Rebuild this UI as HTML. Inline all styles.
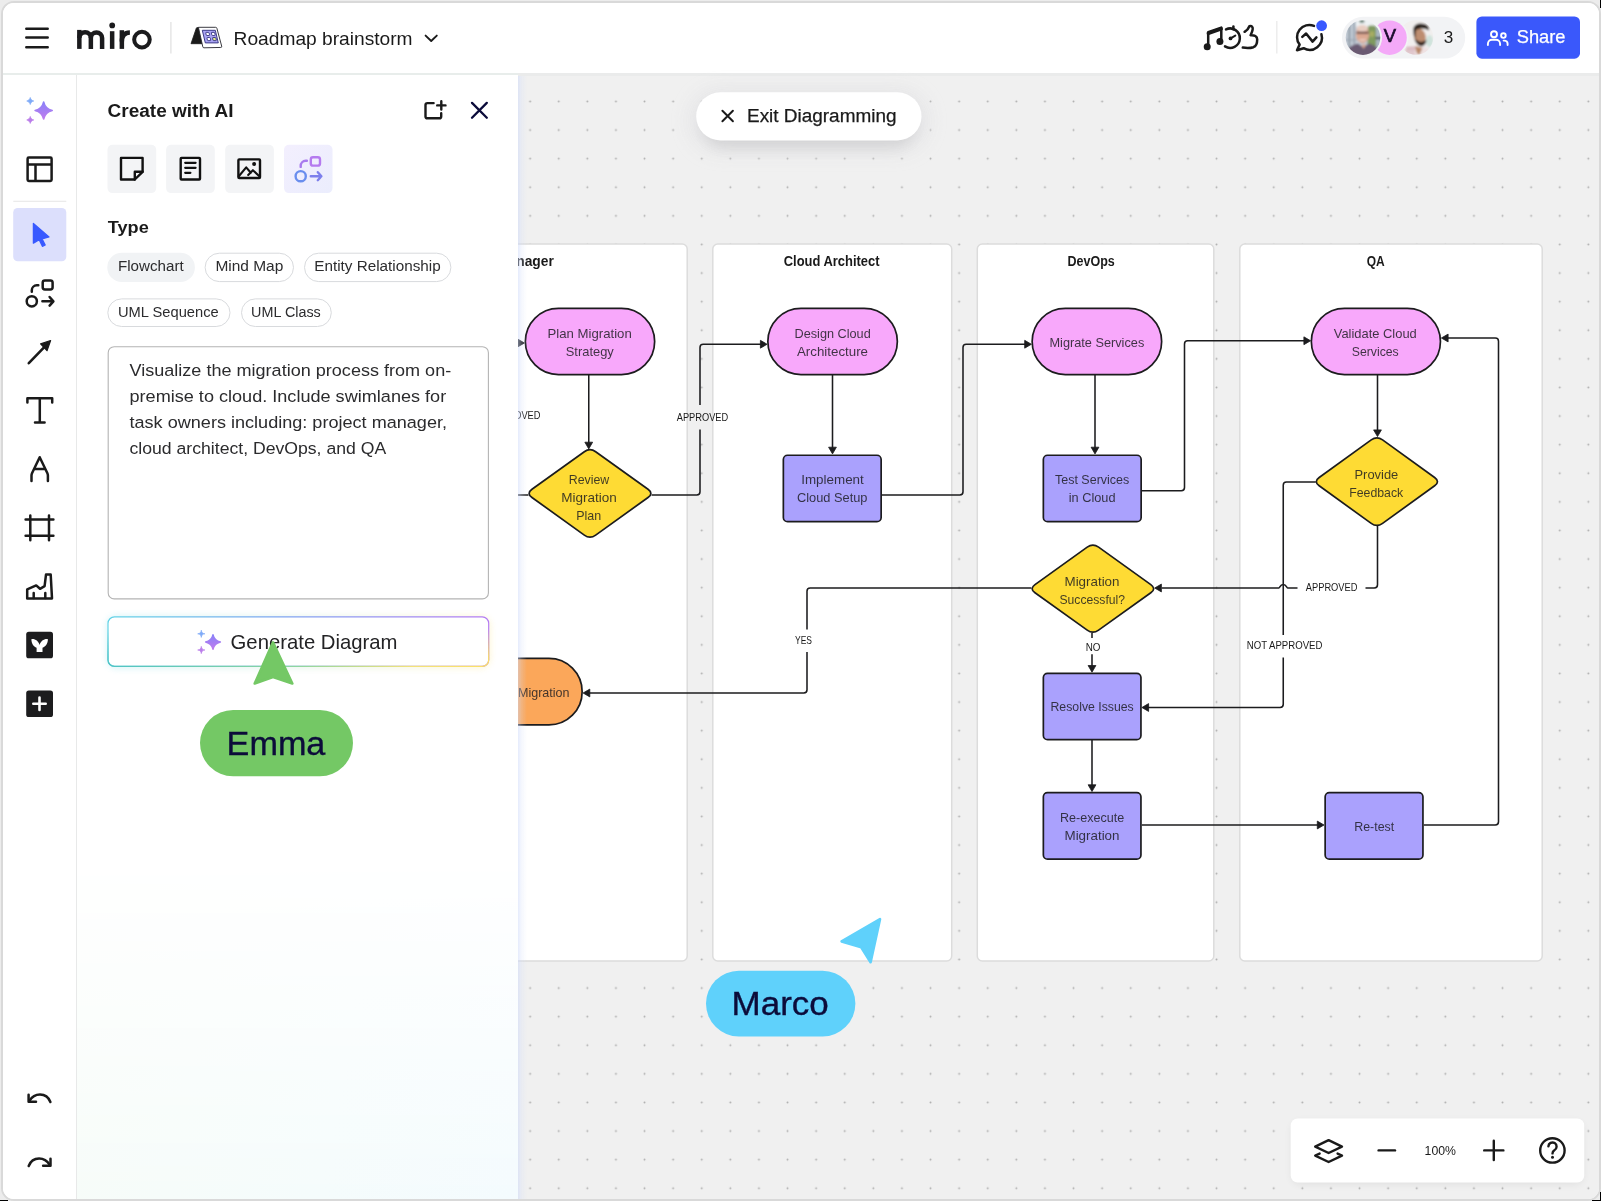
<!DOCTYPE html>
<html lang="en">
<head>
<meta charset="utf-8">
<title>Roadmap brainstorm</title>
<style>
*{box-sizing:border-box;margin:0;padding:0}
html,body{width:1601px;height:1201px;overflow:hidden;background:#ececec;font-family:"Liberation Sans",sans-serif;color:#1a1a1a}
.abs{position:absolute}
svg{will-change:transform}
#frame{position:absolute;left:1px;top:1px;width:1600px;height:1200px;border:2px solid #d9d9d9;border-radius:13px;background:#fff;overflow:hidden}
#inner{position:absolute;left:-3px;top:-3px;width:1601px;height:1201px}
/* header */
#header{position:absolute;left:0;top:0;width:1601px;height:73px;background:#fff}
#hline{position:absolute;left:0;top:73px;width:518px;height:3px;background:#e8edeb}
#hline2{position:absolute;left:518px;top:73px;width:1083px;height:2.5px;background:#eaebeb}
/* toolbar */
#toolbar{position:absolute;left:0;top:75px;width:76px;height:1126px;background:#fff}
#tline{position:absolute;left:75.6px;top:75px;width:2px;height:1126px;background:#e8e9e9}
/* panel */
#panel{position:absolute;left:77px;top:75px;width:441px;height:1126px;background:#fff}
#panelgrad{position:absolute;left:0;top:780px;width:441px;height:346px;background:linear-gradient(100deg,rgba(247,252,248,1) 0%,rgba(245,252,252,1) 60%,rgba(244,251,254,1) 100%);-webkit-mask-image:linear-gradient(180deg,rgba(0,0,0,0) 0%,rgba(0,0,0,.4) 40%,#000 100%);mask-image:linear-gradient(180deg,rgba(0,0,0,0) 0%,rgba(0,0,0,.4) 40%,#000 100%)}
#pglow{position:absolute;left:518px;top:76px;width:9px;height:1125px;background:linear-gradient(90deg,rgba(204,216,250,.5) 0%,rgba(214,224,250,.24) 40%,rgba(226,232,248,0) 100%)}
/* canvas */
#canvas{position:absolute;left:518px;top:75px;width:1083px;height:1126px;background:#f0f0f0;overflow:hidden}
</style>
</head>
<body>
<div id="frame"><div id="inner">

<!-- CANVAS -->
<div id="canvas">
<svg class="abs" style="left:-518px;top:-75px" width="1601" height="1201" viewBox="0 0 1601 1201">
  <defs>
    <pattern id="dots" x="515.85" y="87.15" width="28.6" height="28.6" patternUnits="userSpaceOnUse">
      <circle cx="14.3" cy="14.3" r="0.95" fill="#adadad"/>
    </pattern>
  </defs>
  <rect x="518" y="75" width="1083" height="1126" fill="url(#dots)"/>
  <!-- DIAGRAM-START -->
  <g font-family="Liberation Sans, sans-serif">
  <rect x="300" y="244.1" width="387.20" height="716.80" rx="5" fill="#fff" stroke="#dcdcdc" stroke-width="1.5"/>
  <rect x="712.8" y="244.1" width="238.90" height="716.80" rx="5" fill="#fff" stroke="#dcdcdc" stroke-width="1.5"/>
  <rect x="977.3" y="244.1" width="236.50" height="716.80" rx="5" fill="#fff" stroke="#dcdcdc" stroke-width="1.5"/>
  <rect x="1239.8" y="244.1" width="302.40" height="716.80" rx="5" fill="#fff" stroke="#dcdcdc" stroke-width="1.5"/>
  <text x="553.8" y="266.0" text-anchor="end" font-size="13.8" font-weight="700" fill="#1a1a1a">Project Manager</text>
  <text x="831.6" y="266.0" text-anchor="middle" font-size="13.8" font-weight="700" fill="#1a1a1a" textLength="95.75" lengthAdjust="spacingAndGlyphs">Cloud Architect</text>
  <text x="1091.2" y="266.0" text-anchor="middle" font-size="13.8" font-weight="700" fill="#1a1a1a" textLength="47.2" lengthAdjust="spacingAndGlyphs">DevOps</text>
  <text x="1375.7" y="266.0" text-anchor="middle" font-size="13.8" font-weight="700" fill="#1a1a1a" textLength="18" lengthAdjust="spacingAndGlyphs">QA</text>
  <path d="M588.75,375.00 L588.75,443.20" fill="none" stroke="#1c1c1e" stroke-width="1.55" stroke-linejoin="round"/>
  <path d="M588.75,448.90 L584.85,442.20 L592.65,442.20 Z" fill="#1c1c1e" stroke="#1c1c1e" stroke-width="0.8" stroke-linejoin="round"/>
  <path d="M480.00,343.00 L518.70,343.00" fill="none" stroke="#1c1c1e" stroke-width="1.55" stroke-linejoin="round"/>
  <path d="M524.40,343.00 L517.70,346.90 L517.70,339.10 Z" fill="#1c1c1e" stroke="#1c1c1e" stroke-width="0.8" stroke-linejoin="round"/>
  <path d="M528.50,495.00 L480.00,495.00" fill="none" stroke="#1c1c1e" stroke-width="1.55" stroke-linejoin="round"/>
  <path d="M651.50,495.00 L696.80,495.00 Q700.00,495.00 700.00,491.80 L700.00,429.50" fill="none" stroke="#1c1c1e" stroke-width="1.55" stroke-linejoin="round"/>
  <path d="M700.00,405.00 L700.00,347.45 Q700.00,344.25 703.20,344.25 L761.40,344.25" fill="none" stroke="#1c1c1e" stroke-width="1.55" stroke-linejoin="round"/>
  <path d="M767.10,344.25 L760.40,348.15 L760.40,340.35 Z" fill="#1c1c1e" stroke="#1c1c1e" stroke-width="0.8" stroke-linejoin="round"/>
  <path d="M832.50,375.00 L832.50,448.20" fill="none" stroke="#1c1c1e" stroke-width="1.55" stroke-linejoin="round"/>
  <path d="M832.50,453.90 L828.60,447.20 L836.40,447.20 Z" fill="#1c1c1e" stroke="#1c1c1e" stroke-width="0.8" stroke-linejoin="round"/>
  <path d="M882.00,495.00 L959.80,495.00 Q963.00,495.00 963.00,491.80 L963.00,347.45 Q963.00,344.25 966.20,344.25 L1025.70,344.25" fill="none" stroke="#1c1c1e" stroke-width="1.55" stroke-linejoin="round"/>
  <path d="M1031.40,344.25 L1024.70,348.15 L1024.70,340.35 Z" fill="#1c1c1e" stroke="#1c1c1e" stroke-width="0.8" stroke-linejoin="round"/>
  <path d="M1095.00,375.00 L1095.00,448.20" fill="none" stroke="#1c1c1e" stroke-width="1.55" stroke-linejoin="round"/>
  <path d="M1095.00,453.90 L1091.10,447.20 L1098.90,447.20 Z" fill="#1c1c1e" stroke="#1c1c1e" stroke-width="0.8" stroke-linejoin="round"/>
  <path d="M1142.00,490.75 L1181.30,490.75 Q1184.50,490.75 1184.50,487.55 L1184.50,343.95 Q1184.50,340.75 1187.70,340.75 L1304.90,340.75" fill="none" stroke="#1c1c1e" stroke-width="1.55" stroke-linejoin="round"/>
  <path d="M1310.60,340.75 L1303.90,344.65 L1303.90,336.85 Z" fill="#1c1c1e" stroke="#1c1c1e" stroke-width="0.8" stroke-linejoin="round"/>
  <path d="M1377.50,375.00 L1377.50,430.90" fill="none" stroke="#1c1c1e" stroke-width="1.55" stroke-linejoin="round"/>
  <path d="M1377.50,436.60 L1373.60,429.90 L1381.40,429.90 Z" fill="#1c1c1e" stroke="#1c1c1e" stroke-width="0.8" stroke-linejoin="round"/>
  <path d="M1315.80,482.00 L1286.45,482.00 Q1283.25,482.00 1283.25,485.20 L1283.25,635.00" fill="none" stroke="#1c1c1e" stroke-width="1.55" stroke-linejoin="round"/>
  <path d="M1283.25,657.50 L1283.25,704.30 Q1283.25,707.50 1280.05,707.50 L1147.60,707.50" fill="none" stroke="#1c1c1e" stroke-width="1.55" stroke-linejoin="round"/>
  <path d="M1141.90,707.50 L1148.60,703.60 L1148.60,711.40 Z" fill="#1c1c1e" stroke="#1c1c1e" stroke-width="0.8" stroke-linejoin="round"/>
  <path d="M1377.50,526.00 L1377.50,584.80 Q1377.50,588.00 1374.30,588.00 L1365.50,588.00" fill="none" stroke="#1c1c1e" stroke-width="1.55" stroke-linejoin="round"/>
  <path d="M1297.5,588 L1287.6,588 C1286.6,588 1286.4,584.4 1283.25,584.4 C1280.1,584.4 1279.9,588 1278.9,588 L1161.7,588" fill="none" stroke="#1c1c1e" stroke-width="1.55" stroke-linejoin="round"/>
  <path d="M1154.70,588.00 L1161.40,584.10 L1161.40,591.90 Z" fill="#1c1c1e" stroke="#1c1c1e" stroke-width="0.8" stroke-linejoin="round"/>
  <path d="M1031.50,588.00 L810.20,588.00 Q807.00,588.00 807.00,591.20 L807.00,629.50" fill="none" stroke="#1c1c1e" stroke-width="1.55" stroke-linejoin="round"/>
  <path d="M807.00,652.00 L807.00,689.80 Q807.00,693.00 803.80,693.00 L588.80,693.00" fill="none" stroke="#1c1c1e" stroke-width="1.55" stroke-linejoin="round"/>
  <path d="M583.10,693.00 L589.80,689.10 L589.80,696.90 Z" fill="#1c1c1e" stroke="#1c1c1e" stroke-width="0.8" stroke-linejoin="round"/>
  <path d="M1092.00,632.80 L1092.00,638.00" fill="none" stroke="#1c1c1e" stroke-width="1.55" stroke-linejoin="round"/>
  <path d="M1092.00,654.30 L1092.00,666.50" fill="none" stroke="#1c1c1e" stroke-width="1.55" stroke-linejoin="round"/>
  <path d="M1092.00,672.20 L1088.10,665.50 L1095.90,665.50 Z" fill="#1c1c1e" stroke="#1c1c1e" stroke-width="0.8" stroke-linejoin="round"/>
  <path d="M1092.00,740.00 L1092.00,785.80" fill="none" stroke="#1c1c1e" stroke-width="1.55" stroke-linejoin="round"/>
  <path d="M1092.00,791.50 L1088.10,784.80 L1095.90,784.80 Z" fill="#1c1c1e" stroke="#1c1c1e" stroke-width="0.8" stroke-linejoin="round"/>
  <path d="M1141.80,825.00 L1318.30,825.00" fill="none" stroke="#1c1c1e" stroke-width="1.55" stroke-linejoin="round"/>
  <path d="M1324.00,825.00 L1317.30,828.90 L1317.30,821.10 Z" fill="#1c1c1e" stroke="#1c1c1e" stroke-width="0.8" stroke-linejoin="round"/>
  <path d="M1423.80,825.00 L1495.30,825.00 Q1498.50,825.00 1498.50,821.80 L1498.50,341.20 Q1498.50,338.00 1495.30,338.00 L1447.10,338.00" fill="none" stroke="#1c1c1e" stroke-width="1.55" stroke-linejoin="round"/>
  <path d="M1441.40,338.00 L1448.10,334.10 L1448.10,341.90 Z" fill="#1c1c1e" stroke="#1c1c1e" stroke-width="0.8" stroke-linejoin="round"/>
  <rect x="525.35" y="308.35" width="129.30" height="66.30" rx="33.15" fill="#f8a8fb" stroke="#1c1c1e" stroke-width="1.7"/>
  <rect x="767.85" y="308.35" width="129.50" height="66.30" rx="33.15" fill="#f8a8fb" stroke="#1c1c1e" stroke-width="1.7"/>
  <rect x="1032.15" y="308.35" width="129.50" height="66.30" rx="33.15" fill="#f8a8fb" stroke="#1c1c1e" stroke-width="1.7"/>
  <rect x="1311.35" y="308.35" width="129.10" height="66.30" rx="33.15" fill="#f8a8fb" stroke="#1c1c1e" stroke-width="1.7"/>
  <rect x="452.85" y="658.45" width="129.30" height="66.40" rx="33.20" fill="#fba75a" stroke="#1c1c1e" stroke-width="1.7"/>
  <rect x="783.35" y="455.25" width="97.80" height="66.40" rx="4.2" fill="#aaa1fd" stroke="#1c1c1e" stroke-width="1.7"/>
  <rect x="1043.35" y="455.25" width="97.80" height="66.40" rx="4.2" fill="#aaa1fd" stroke="#1c1c1e" stroke-width="1.7"/>
  <rect x="1043.35" y="673.35" width="97.60" height="66.30" rx="4.2" fill="#aaa1fd" stroke="#1c1c1e" stroke-width="1.7"/>
  <rect x="1043.35" y="792.65" width="97.60" height="66.50" rx="4.2" fill="#aaa1fd" stroke="#1c1c1e" stroke-width="1.7"/>
  <rect x="1325.15" y="792.65" width="97.80" height="66.50" rx="4.2" fill="#aaa1fd" stroke="#1c1c1e" stroke-width="1.7"/>
  <path d="M584.32,451.69 Q590.00,447.60 595.68,451.69 L648.02,489.31 Q653.70,493.40 648.02,497.49 L595.68,535.11 Q590.00,539.20 584.32,535.11 L531.98,497.49 Q526.30,493.40 531.98,489.31 Z" fill="#fedb34" stroke="#1c1c1e" stroke-width="1.7" stroke-linejoin="round"/>
  <path d="M1371.23,439.90 Q1376.90,435.80 1382.57,439.90 L1434.63,477.55 Q1440.30,481.65 1434.63,485.75 L1382.57,523.40 Q1376.90,527.50 1371.23,523.40 L1319.17,485.75 Q1313.50,481.65 1319.17,477.55 Z" fill="#fedb34" stroke="#1c1c1e" stroke-width="1.7" stroke-linejoin="round"/>
  <path d="M1087.21,547.18 Q1092.90,543.10 1098.59,547.18 L1150.81,584.57 Q1156.50,588.65 1150.81,592.73 L1098.59,630.12 Q1092.90,634.20 1087.21,630.12 L1034.99,592.73 Q1029.30,588.65 1034.99,584.57 Z" fill="#fedb34" stroke="#1c1c1e" stroke-width="1.7" stroke-linejoin="round"/>
  <text x="547.5" y="338" font-size="13.4" fill="#1b1b20" fill-opacity="0.84" textLength="84.25" lengthAdjust="spacingAndGlyphs">Plan Migration</text>
  <text x="565.75" y="355.75" font-size="13.4" fill="#1b1b20" fill-opacity="0.84" textLength="48.00" lengthAdjust="spacingAndGlyphs">Strategy</text>
  <text x="794.5" y="338" font-size="13.4" fill="#1b1b20" fill-opacity="0.84" textLength="76.25" lengthAdjust="spacingAndGlyphs">Design Cloud</text>
  <text x="797" y="355.75" font-size="13.4" fill="#1b1b20" fill-opacity="0.84" textLength="71.00" lengthAdjust="spacingAndGlyphs">Architecture</text>
  <text x="1049.5" y="347" font-size="13.4" fill="#1b1b20" fill-opacity="0.84" textLength="94.75" lengthAdjust="spacingAndGlyphs">Migrate Services</text>
  <text x="1333.75" y="338" font-size="13.4" fill="#1b1b20" fill-opacity="0.84" textLength="83.00" lengthAdjust="spacingAndGlyphs">Validate Cloud</text>
  <text x="1351.75" y="355.75" font-size="13.4" fill="#1b1b20" fill-opacity="0.84" textLength="47.00" lengthAdjust="spacingAndGlyphs">Services</text>
  <text x="568.75" y="483.75" font-size="13.4" fill="#1b1b20" fill-opacity="0.84" textLength="40.50" lengthAdjust="spacingAndGlyphs">Review</text>
  <text x="561.25" y="501.75" font-size="13.4" fill="#1b1b20" fill-opacity="0.84" textLength="55.50" lengthAdjust="spacingAndGlyphs">Migration</text>
  <text x="576.25" y="519.5" font-size="13.4" fill="#1b1b20" fill-opacity="0.84" textLength="25.00" lengthAdjust="spacingAndGlyphs">Plan</text>
  <text x="801.25" y="484.25" font-size="13.4" fill="#1b1b20" fill-opacity="0.84" textLength="62.50" lengthAdjust="spacingAndGlyphs">Implement</text>
  <text x="797" y="502" font-size="13.4" fill="#1b1b20" fill-opacity="0.84" textLength="70.50" lengthAdjust="spacingAndGlyphs">Cloud Setup</text>
  <text x="1055" y="484.25" font-size="13.4" fill="#1b1b20" fill-opacity="0.84" textLength="74.25" lengthAdjust="spacingAndGlyphs">Test Services</text>
  <text x="1068.75" y="502" font-size="13.4" fill="#1b1b20" fill-opacity="0.84" textLength="46.75" lengthAdjust="spacingAndGlyphs">in Cloud</text>
  <text x="1354.5" y="479.25" font-size="13.4" fill="#1b1b20" fill-opacity="0.84" textLength="43.75" lengthAdjust="spacingAndGlyphs">Provide</text>
  <text x="1349.25" y="497" font-size="13.4" fill="#1b1b20" fill-opacity="0.84" textLength="54.00" lengthAdjust="spacingAndGlyphs">Feedback</text>
  <text x="1064.5" y="586.25" font-size="13.4" fill="#1b1b20" fill-opacity="0.84" textLength="55.00" lengthAdjust="spacingAndGlyphs">Migration</text>
  <text x="1059.5" y="604.25" font-size="13.4" fill="#1b1b20" fill-opacity="0.84" textLength="65.50" lengthAdjust="spacingAndGlyphs">Successful?</text>
  <text x="1050.5" y="711.25" font-size="13.4" fill="#1b1b20" fill-opacity="0.84" textLength="83.25" lengthAdjust="spacingAndGlyphs">Resolve Issues</text>
  <text x="1060" y="821.7" font-size="13.4" fill="#1b1b20" fill-opacity="0.84" textLength="64.25" lengthAdjust="spacingAndGlyphs">Re-execute</text>
  <text x="1064.5" y="839.7" font-size="13.4" fill="#1b1b20" fill-opacity="0.84" textLength="55.00" lengthAdjust="spacingAndGlyphs">Migration</text>
  <text x="1354.25" y="830.75" font-size="13.4" fill="#1b1b20" fill-opacity="0.84" textLength="40.00" lengthAdjust="spacingAndGlyphs">Re-test</text>
  <text x="461.0" y="697" font-size="13.4" fill="#1b1b20" fill-opacity="0.84" textLength="108.50" lengthAdjust="spacingAndGlyphs">Complete Migration</text>
  <text x="676.75" y="421.0" font-size="10.4" fill="#1a1a1a" textLength="51.50" lengthAdjust="spacingAndGlyphs">APPROVED</text>
  <text x="489.0" y="418.8" font-size="10.4" fill="#1a1a1a" textLength="51.50" lengthAdjust="spacingAndGlyphs">APPROVED</text>
  <text x="1305.75" y="591.25" font-size="10.4" fill="#1a1a1a" textLength="51.75" lengthAdjust="spacingAndGlyphs">APPROVED</text>
  <text x="1246.75" y="648.75" font-size="10.4" fill="#1a1a1a" textLength="75.75" lengthAdjust="spacingAndGlyphs">NOT APPROVED</text>
  <text x="795" y="644.25" font-size="10.4" fill="#1a1a1a" textLength="17.00" lengthAdjust="spacingAndGlyphs">YES</text>
  <text x="1085.75" y="650.75" font-size="10.4" fill="#1a1a1a" textLength="14.75" lengthAdjust="spacingAndGlyphs">NO</text>
  </g>
  <!-- DIAGRAM-END -->
</svg>
</div>
<div id="pglow"></div>

<!-- HEADER -->
<div id="header">
<svg class="abs" style="left:0;top:0" width="1601" height="73" viewBox="0 0 1601 73" font-family="Liberation Sans, sans-serif">
  <!-- hamburger -->
  <g stroke="#1a1a1a" stroke-width="2.5" stroke-linecap="round">
    <path d="M26.3,28.7H47.7M26.3,37.6H47.7M26.3,47.2H47.7"/>
  </g>
  <!-- miro logo -->
  <g fill="none" stroke="#1b1b1d" stroke-width="4.5">
    <path d="M79.35,48.9V29.9"/>
    <path d="M79.35,38.0a5.75,5.75 0 0 1 11.5,0V48.9"/>
    <path d="M90.85,38.0a5.62,5.62 0 0 1 11.25,0V48.9"/>
    <path d="M112.15,31.2V48.9"/>
    <path d="M121.85,30.2V48.9"/>
    <path d="M121.85,41.5C121.85,35.6 124.8,32.5 129.9,32.4"/>
    <circle cx="141.95" cy="39.6" r="7.8" stroke-width="4.0"/>
  </g>
  <circle cx="112.2" cy="25.4" r="2.85" fill="#1b1b1d"/>
  <!-- separator -->
  <rect x="170.2" y="22" width="1.4" height="31.5" fill="#e4e4e4"/>
  <!-- board icon -->
  <g>
    <path d="M191,43.7L196.3,28.2Q196.5,27.6 197.2,27.6H199L202.4,43.7Z" fill="#1a1a1a" stroke="#1a1a1a" stroke-width="0.8" stroke-linejoin="round"/>
    <path d="M198.4,27.3H215.6Q216.6,27.3 216.9,28.3L221.7,46.2Q222,47.4 220.8,47.45L204,47.8Q203,47.8 202.8,46.8Z" fill="#fff" stroke="#26262c" stroke-width="0.9" stroke-linejoin="round"/>
    <path d="M202.3,30.3H215.3L218.3,42.9H205.3Z" fill="#aaa4f4" stroke="#2b2a78" stroke-width="0.9" stroke-linejoin="round"/>
    <g stroke="#2b2a78" stroke-width="0.8" fill="#fff">
      <rect x="206.0" y="32.4" width="3.3" height="3.1" rx="0.6" transform="skewX(12) translate(-7.2,0)"/>
      <rect x="211.6" y="32.4" width="3.3" height="3.1" rx="0.6" transform="skewX(12) translate(-7.2,0)"/>
      <rect x="207.2" y="37.5" width="3.3" height="3.1" rx="0.6" transform="skewX(12) translate(-8.3,0)"/>
      <rect x="212.8" y="37.5" width="3.3" height="3.1" rx="0.6" fill="#e6ee8c" transform="skewX(12) translate(-8.3,0)"/>
    </g>
  </g>
  <!-- title -->
  <text x="233.6" y="44.6" font-size="18.5" fill="#1a1a1a" textLength="179" lengthAdjust="spacingAndGlyphs">Roadmap brainstorm</text>
  <path d="M425.6,35.6L431.2,41L436.8,35.6" fill="none" stroke="#1a1a1a" stroke-width="1.9" stroke-linecap="round" stroke-linejoin="round"/>

  <!-- music / timer / thumb -->
  <g fill="none" stroke="#1a1a1a" stroke-width="2.5" stroke-linecap="round" stroke-linejoin="round">
    <path d="M1208.2,45.5V32.2L1221.3,27.6V40.6"/>
    <path d="M1208.4,33.4L1221.1,28.9" stroke-width="3.6"/>
    <path d="M1226.0,29.4A9.7,9.7 0 1 1 1225.0,46.4"/>
    <path d="M1233.4,26.4V29.2"/>
    <path d="M1230.6,38.3L1235.3,35.6" stroke-width="2"/>
    <path d="M1244.6,31.8C1247,30.4 1248.6,28.4 1249.4,26.2C1251.8,25.4 1253.2,27.2 1252.6,29.8C1252.2,31.8 1251.4,33.4 1250.6,35.2C1254.4,34.8 1257.2,36.4 1257.2,39.4C1257.2,43.2 1256.4,46.0 1253.4,47.2C1250.4,48.2 1246.6,48.2 1242.8,47.6"/>
  </g>
  <circle cx="1207.2" cy="46.7" r="3.5" fill="#1a1a1a"/>
  <circle cx="1219.9" cy="41.6" r="3.5" fill="#1a1a1a"/>
  <circle cx="1230.5" cy="38.4" r="1.9" fill="#1a1a1a"/>
  <rect x="1276.1" y="21" width="1.4" height="32.5" fill="#ececec"/>
  <!-- chat / activity -->
  <g fill="none" stroke="#1a1a1a" stroke-width="2.5" stroke-linecap="round" stroke-linejoin="round">
    <path d="M1314.0,25.9A12.2,12.2 0 0 0 1299.6,44.6L1297.0,50.2L1303.6,48.2A12.2,12.2 0 0 0 1321.4,34.2"/>
    <path d="M1302.3,36.9L1306.1,33.5L1312.6,41.6L1316.4,37.4"/>
  </g>
  <circle cx="1321.6" cy="25.7" r="5.4" fill="#3859ff"/>

  <!-- avatars pill -->
  <rect x="1342" y="16.8" width="123.2" height="41.8" rx="20.9" fill="#f2f3f5"/>
  <defs>
    <clipPath id="av1"><circle cx="1363" cy="37.6" r="17.3"/></clipPath>
    <clipPath id="av3"><circle cx="1416" cy="37.5" r="17.3"/></clipPath>
    <filter id="b1" x="-20%" y="-20%" width="140%" height="140%"><feGaussianBlur stdDeviation="0.9"/></filter>
  </defs>
  <!-- avatar 3 photo-ish (bottom) -->
  <g clip-path="url(#av3)"><g filter="url(#b1)">
    <rect x="1397" y="19" width="38" height="38" fill="#f1efee"/>
    <ellipse cx="1429.5" cy="41" rx="3.6" ry="6" fill="#cfe3dc"/>
    <path d="M1404,57C1405,49 1408,45.5 1413,45.6L1424,47C1429,48 1431,52 1432,57Z" fill="#efe2e3"/>
    <path d="M1406,47.6H1416M1405.4,50.4H1415M1405,53.2H1415M1405,56H1416" stroke="#c592a0" stroke-width="1.1"/>
    <ellipse cx="1419.8" cy="36.4" rx="5.9" ry="7.8" fill="#bd8d6f" transform="rotate(-14 1419.8 36.4)"/>
    <path d="M1413.4,31.2C1412.6,25.6 1416.4,23.2 1421,23.4C1426.6,23.4 1430,26.4 1428.6,30.6C1426,28 1420.6,27.8 1416.2,30C1415.4,32.4 1415.2,35.4 1415.6,38.6C1413.8,36.6 1413.4,33.6 1413.4,31.2Z" fill="#2b211d"/>
    <path d="M1414.4,38.4C1415.4,43 1418.4,46.4 1422.2,46.2C1425,45.6 1426.2,42.8 1426.4,39.8C1424,41.8 1420.2,42.4 1417.6,40.4C1416.2,39.8 1415.2,39.2 1414.4,38.4Z" fill="#3a2a22"/>
    <path d="M1415.4,46C1415.4,50 1416.4,54 1419.4,55L1422.4,48Z" fill="#b98868"/>
  </g></g>
  <!-- avatar 2 (V) -->
  <circle cx="1389.6" cy="37.7" r="18.9" fill="#f2f3f5"/>
  <circle cx="1389.6" cy="37.7" r="17.2" fill="#f4a9f8"/>
  <text x="1389.9" y="41.9" text-anchor="middle" font-size="18.4" fill="#1c0d2e" stroke="#1c0d2e" stroke-width="0.7">V</text>
  <!-- avatar 1 photo-ish -->
  <circle cx="1363" cy="37.6" r="19.1" fill="#f2f3f5"/>
  <g clip-path="url(#av1)"><g filter="url(#b1)">
    <rect x="1344" y="19" width="38" height="38" fill="#c3ccd6"/>
    <rect x="1356" y="19" width="26" height="8" fill="#eef2f4"/>
    <rect x="1348.6" y="24" width="1.6" height="26" fill="#7d8a97"/>
    <rect x="1353.4" y="22" width="1.4" height="22" fill="#8a96a3"/>
    <rect x="1345" y="39.4" width="12" height="1.2" fill="#9aa5b0"/>
    <rect x="1359.6" y="19.8" width="4.6" height="2.8" fill="#4f6d5e"/>
    <rect x="1367.5" y="25.5" width="9" height="23" rx="3" fill="#7f9a5e"/>
    <ellipse cx="1372" cy="34" rx="2.4" ry="3" fill="#a8ad62"/>
    <rect x="1376" y="27" width="6" height="22" fill="#a9b5c1"/>
    <rect x="1375.6" y="37" width="6" height="2.2" fill="#3e424a"/>
    <ellipse cx="1362.5" cy="34.4" rx="6.7" ry="8.8" fill="#dba892"/>
    <ellipse cx="1362.3" cy="28.2" rx="5.8" ry="3.2" fill="#e8cdc2"/>
    <path d="M1356.4,32.7H1368.6" stroke="#4a3034" stroke-width="1.7"/>
    <path d="M1359.6,39.4Q1362.6,41 1365.4,39.2" stroke="#f3e2dc" stroke-width="1.1" fill="none"/>
    <path d="M1345,57C1346,49 1352,44.5 1358,43.6L1363.4,47.6L1368.6,43.4C1375,44.6 1380,49 1381,57Z" fill="#6a5a72"/>
    <path d="M1361.6,44.6L1363.6,49L1366,44.4Z" fill="#d9a48e"/>
  </g></g>
  <text x="1448.4" y="42.9" text-anchor="middle" font-size="17.1" fill="#1a1a1a">3</text>

  <!-- share -->
  <rect x="1476.4" y="16.4" width="103.6" height="42.3" rx="5.5" fill="#3a58fb"/>
  <g fill="none" stroke="#fff" stroke-width="1.9" stroke-linecap="round" stroke-linejoin="round">
    <circle cx="1494.0" cy="34.3" r="3.0"/>
    <path d="M1487.9,45.0V43.9A4.1,4.1 0 0 1 1492,39.8H1496A4.1,4.1 0 0 1 1500.1,43.9V45.0"/>
    <circle cx="1503.4" cy="35.6" r="2.3"/>
    <path d="M1503.6,40.6H1504.4A3.2,3.2 0 0 1 1507.6,43.8V45.0"/>
  </g>
  <text x="1516.7" y="42.8" font-size="17.9" fill="#fff" textLength="48.8" lengthAdjust="spacingAndGlyphs" stroke="#fff" stroke-width="0.25">Share</text>
</svg>
</div>
<div id="hline"></div><div id="hline2"></div>

<!-- TOOLBAR -->
<div id="toolbar">
<svg class="abs" style="left:0;top:-75px" width="76" height="1201" viewBox="0 0 76 1201">
  <defs>
    <linearGradient id="spk" x1="0" y1="0" x2="0" y2="1"><stop offset="0" stop-color="#8980f8"/><stop offset="1" stop-color="#c07cee"/></linearGradient>
  </defs>
  <!-- sparkle -->
  <path d="M43.65,101.90C44.65,106.30 47.85,109.50 52.25,110.5C47.85,111.50 44.65,114.70 43.65,119.10C42.65,114.70 39.45,111.50 35.05,110.5C39.45,109.50 42.65,106.30 43.65,101.90Z" fill="url(#spk)" stroke="url(#spk)" stroke-width="1.5" stroke-linejoin="round"/>
  <path d="M30.25,97.50C30.70,99.30 31.95,100.55 33.75,101.0C31.95,101.45 30.70,102.70 30.25,104.50C29.80,102.70 28.55,101.45 26.75,101.0C28.55,100.55 29.80,99.30 30.25,97.50Z" fill="#7fabf8" stroke="#7fabf8" stroke-width="0.7" stroke-linejoin="round"/>
  <path d="M30.25,116.45C30.70,118.25 31.95,119.50 33.75,119.95C31.95,120.40 30.70,121.65 30.25,123.45C29.80,121.65 28.55,120.40 26.75,119.95C28.55,119.50 29.80,118.25 30.25,116.45Z" fill="#ba7de9" stroke="#ba7de9" stroke-width="0.7" stroke-linejoin="round"/>
  <!-- templates -->
  <g fill="none" stroke="#1a1a1a" stroke-width="2.5" stroke-linejoin="round">
    <rect x="27.6" y="157.5" width="24" height="23.5" rx="1.2"/>
    <path d="M27.6,164.6H51.6M35.5,164.6V181"/>
  </g>
  <rect x="13.3" y="200.7" width="53" height="1.3" fill="#ebebeb"/>
  <!-- selected cursor -->
  <rect x="13.2" y="208" width="53.1" height="53.3" rx="4.5" fill="#dcdffc"/>
  <path d="M33.4,223.4V243.2L39.2,239.8L42.4,246.3L45.2,245L42,238.9L49.0,236.9Z" fill="#3859ff" stroke="#3859ff" stroke-width="1.3" stroke-linejoin="round"/>
  <!-- shapes -->
  <g fill="none" stroke="#1a1a1a" stroke-width="2.5" stroke-linecap="round" stroke-linejoin="round">
    <rect x="42.7" y="280.4" width="9.9" height="9" rx="2.2"/>
    <circle cx="31.8" cy="301.3" r="5.1"/>
    <path d="M31.8,291.8V290.3A5,5 0 0 1 36.8,285.3H38.3"/>
    <path d="M42.4,301.3H53.2M49.6,297L53.4,301.3L49.6,305.6"/>
  </g>
  <!-- arrow -->
  <path d="M28.8,363.2L46,345.3" fill="none" stroke="#1a1a1a" stroke-width="2.6" stroke-linecap="round"/>
  <path d="M50.6,340.5L40.6,343.9L47,350.7Z" fill="#1a1a1a" stroke="#1a1a1a" stroke-width="1.2" stroke-linejoin="round"/>
  <!-- T -->
  <g fill="none" stroke="#1a1a1a" stroke-width="2.5" stroke-linecap="round" stroke-linejoin="round">
    <path d="M27.4,402.6V398.3H52.2V402.6M39.8,398.3V422.4M35,422.4H44.6"/>
  </g>
  <!-- pen A -->
  <g fill="none" stroke="#1a1a1a" stroke-width="2.5" stroke-linecap="round" stroke-linejoin="round">
    <path d="M31.5,480.9V475.6Q31.5,474.3 32,473.2L39.7,457.2L47.4,473.2Q47.9,474.3 47.9,475.6V480.9"/>
    <path d="M34.9,469H44.5"/>
  </g>
  <!-- frame -->
  <g fill="none" stroke="#1a1a1a" stroke-width="2.5" stroke-linecap="round">
    <path d="M30.3,515.4V540.2M49,515.4V540.2M25.6,519.4H53.4M25.6,535.8H53.4"/>
  </g>
  <!-- chart -->
  <g fill="none" stroke="#1a1a1a" stroke-width="2.5" stroke-linecap="round" stroke-linejoin="round">
    <path d="M27.2,598.4V589.4L36.2,585.4L40,588.8L44.6,586.2L46,574.6H50.7L52,598.4Z"/>
    <path d="M33.7,593V598M45.3,593V598"/>
  </g>
  <!-- Y square -->
  <rect x="26.2" y="631.8" width="26.8" height="26.5" rx="2.6" fill="#1c1c1e"/>
  <path d="M31.4,639.2C35,638.6 38.4,641 39.6,645C40.8,641 44.2,638.6 47.9,639.2C47.9,643.6 45.6,646.6 42.5,647.8V651.9H36.6V647.8C33.6,646.6 31.4,643.6 31.4,639.2Z" fill="#fff"/>
  <!-- plus square -->
  <rect x="26.2" y="690.5" width="26.8" height="26.5" rx="2.6" fill="#1c1c1e"/>
  <path d="M33.3,703.8H45.7M39.5,697.6V710" stroke="#fff" stroke-width="2.6" stroke-linecap="round"/>
  <!-- undo / redo -->
  <g fill="none" stroke="#1a1a1a" stroke-width="2.5" stroke-linecap="round" stroke-linejoin="round">
    <path d="M50.4,1102C48.6,1097.4 44.6,1094.6 40,1094.6C35.6,1094.6 31.8,1097 29.4,1100.8"/>
    <path d="M28.6,1094.8V1101.8H36"/>
    <path d="M28.7,1166C30.5,1161.4 34.5,1158.6 39.1,1158.6C43.5,1158.6 47.3,1161 49.7,1164.8"/>
    <path d="M50.5,1158.8V1165.8H43.1"/>
  </g>
</svg>

</div>
<div id="tline"></div>

<!-- PANEL -->
<div id="panel">
<div id="panelgrad"></div>
<svg class="abs" style="left:-77px;top:-75px" width="600" height="1201" viewBox="0 0 600 1201" font-family="Liberation Sans, sans-serif">
  <defs>
    <linearGradient id="spk2" x1="0" y1="0" x2="0" y2="1"><stop offset="0" stop-color="#8980f8"/><stop offset="1" stop-color="#c07cee"/></linearGradient>
    <linearGradient id="dgi" x1="0.7" y1="0" x2="0.2" y2="1"><stop offset="0" stop-color="#b97bef"/><stop offset="0.55" stop-color="#8f7cec"/><stop offset="1" stop-color="#5b93ee"/></linearGradient>
    <linearGradient id="b4" x1="0" y1="0" x2="1" y2="1"><stop offset="0" stop-color="#f3effe"/><stop offset="1" stop-color="#ebedfd"/></linearGradient>
    <linearGradient id="gbTop" x1="0" y1="0" x2="1" y2="0"><stop offset="0" stop-color="#62d3e6"/><stop offset="0.45" stop-color="#7ea5f0"/><stop offset="1" stop-color="#b57cf2"/></linearGradient>
    <linearGradient id="gbBot" x1="0" y1="0" x2="1" y2="0"><stop offset="0" stop-color="#4fc4c4"/><stop offset="0.5" stop-color="#8fd6a0"/><stop offset="0.8" stop-color="#f3e27a"/><stop offset="1" stop-color="#fbe066"/></linearGradient>
    <linearGradient id="gbAll" gradientUnits="userSpaceOnUse" x1="107" y1="616" x2="489" y2="667">
      <stop offset="0" stop-color="#62d3e6"/><stop offset="0.5" stop-color="#a6d8b4"/><stop offset="1" stop-color="#fbe066"/></linearGradient>
    <filter id="gglow" x="-10%" y="-40%" width="120%" height="180%"><feGaussianBlur stdDeviation="3.2"/></filter>
    <linearGradient id="vg" x1="0" y1="0" x2="0" y2="1"><stop offset="0" stop-color="#000"/><stop offset="0.25" stop-color="#000"/><stop offset="0.8" stop-color="#fff"/><stop offset="1" stop-color="#fff"/></linearGradient>
    <mask id="vmask" maskUnits="userSpaceOnUse" x="100" y="610" width="400" height="64"><rect x="100" y="616" width="400" height="51.5" fill="url(#vg)"/></mask>
    <clipPath id="gtop"><rect x="100" y="600" width="400" height="41.6"/></clipPath>
    <clipPath id="gbot"><rect x="100" y="641.6" width="400" height="40"/></clipPath>
  </defs>
  <!-- title -->
  <text x="107.6" y="117.3" font-size="18.3" font-weight="700" fill="#1a1a1a" textLength="126" lengthAdjust="spacingAndGlyphs">Create with AI</text>
  <!-- new board icon -->
  <g fill="none" stroke="#1a1a1a" stroke-width="2.4" stroke-linecap="round" stroke-linejoin="round">
    <path d="M433.6,103.1H427.4Q425.5,103.1 425.5,105V116.4Q425.5,118.3 427.4,118.3H439.3Q441.2,118.3 441.2,116.4V113.2"/>
    <path d="M441.3,101.3V109.6M437.2,105.4H445.5"/>
  </g>
  <path d="M472,102.9L486.8,117.7M486.8,102.9L472,117.7" fill="none" stroke="#0b0b3a" stroke-width="2.3" stroke-linecap="round"/>

  <!-- type buttons -->
  <rect x="107.5" y="144.7" width="48.7" height="48.4" rx="5" fill="#f3f4f6"/>
  <rect x="166.1" y="144.7" width="48.7" height="48.4" rx="5" fill="#f3f4f6"/>
  <rect x="225.2" y="144.7" width="48.7" height="48.4" rx="5" fill="#f3f4f6"/>
  <rect x="284.0" y="144.7" width="48.5" height="48.4" rx="5" fill="url(#b4)"/>
  <g fill="none" stroke="#111" stroke-width="2.4" stroke-linejoin="round" stroke-linecap="round">
    <!-- sticky -->
    <path d="M121,157.9H142.6V171.8L134.8,179.5H121Z"/>
    <path d="M142.6,171.8H134.8V179.5"/>
    <!-- doc -->
    <rect x="180.7" y="157.9" width="19.3" height="21.6" rx="0.8"/>
    <path d="M185.2,162.8H195.6M185.2,167.8H195.6M185.2,172.8H190.4" stroke-width="2.2"/>
    <!-- image -->
    <rect x="238.4" y="159.4" width="21.6" height="18.6" rx="0.8"/>
    <path d="M238.8,176.2L246.2,167.4L250.8,172.8M248.2,175L252.9,170.2L259.6,176.6" stroke-width="2.1"/>
  </g>
  <circle cx="254.1" cy="163.9" r="2" fill="#111"/>
  <!-- diagram icon gradient -->
  <g fill="none" stroke="url(#dgi)" stroke-width="2.4" stroke-linecap="round" stroke-linejoin="round">
    <rect x="310.8" y="157.2" width="9.2" height="8.4" rx="2.2" stroke="#b57bef"/>
    <path d="M300.7,166.9V165.8A5,5 0 0 1 305.7,160.8H306.9" stroke="#a97bee"/>
    <circle cx="300.7" cy="176.2" r="5.1" stroke="#6a8eee"/>
    <path d="M310.8,176.2H321.2M317.8,172.2L321.4,176.2L317.8,180.2" stroke="#7d7fec"/>
  </g>

  <!-- Type -->
  <text x="107.8" y="233.3" font-size="16.9" font-weight="700" fill="#1a1a1a" textLength="41" lengthAdjust="spacingAndGlyphs">Type</text>
  <!-- chips -->
  <rect x="107.3" y="252.8" width="87.6" height="29.2" rx="14.6" fill="#f1f3f5"/>
  <g fill="#fff" stroke="#d8dadd" stroke-width="1">
    <rect x="205.1" y="253.2" width="88.4" height="28.4" rx="14.2"/>
    <rect x="304.5" y="253.2" width="146.4" height="28.4" rx="14.2"/>
    <rect x="107.8" y="298.9" width="122.2" height="27.6" rx="13.8"/>
    <rect x="241.5" y="298.9" width="89.8" height="27.6" rx="13.8"/>
  </g>
  <g font-size="15.2" fill="#2c2c2e">
    <text x="118" y="271.2" textLength="65.7" lengthAdjust="spacingAndGlyphs">Flowchart</text>
    <text x="215.4" y="271.2" textLength="67.9" lengthAdjust="spacingAndGlyphs">Mind Map</text>
    <text x="314.3" y="271.2" textLength="126.4" lengthAdjust="spacingAndGlyphs">Entity Relationship</text>
    <text x="118" y="316.8" textLength="100.7" lengthAdjust="spacingAndGlyphs">UML Sequence</text>
    <text x="251.1" y="316.8" textLength="69.7" lengthAdjust="spacingAndGlyphs">UML Class</text>
  </g>
  <!-- textarea -->
  <rect x="108.2" y="346.7" width="380.2" height="252.2" rx="6" fill="#fff" stroke="#b4b4b4" stroke-width="1.1"/>
  <g font-size="17.4" fill="#2b2b2d">
    <text x="129.5" y="375.7" textLength="321.7" lengthAdjust="spacingAndGlyphs">Visualize the migration process from on-</text>
    <text x="129.5" y="401.9" textLength="316.7" lengthAdjust="spacingAndGlyphs">premise to cloud. Include swimlanes for</text>
    <text x="129.5" y="427.9" textLength="317.5" lengthAdjust="spacingAndGlyphs">task owners including: project manager,</text>
    <text x="129.5" y="453.8" textLength="256.7" lengthAdjust="spacingAndGlyphs">cloud architect, DevOps, and QA</text>
  </g>
  <!-- generate button -->
  <rect x="109" y="618" width="379" height="48" rx="8" fill="none" stroke="url(#gbAll)" stroke-width="5" opacity="0.28" filter="url(#gglow)"/>
  <rect x="108" y="616.8" width="380.7" height="49.6" rx="6.5" fill="#fff"/>
  <rect x="108" y="616.8" width="380.7" height="49.6" rx="6.5" fill="none" stroke="url(#gbTop)" stroke-width="1.2"/>
  <rect x="108" y="616.8" width="380.7" height="49.6" rx="6.5" fill="none" stroke="url(#gbBot)" stroke-width="1.2" mask="url(#vmask)"/>
  <path d="M213,634.60C213.85,638.40 216.60,641.15 220.40,642C216.60,642.85 213.85,645.60 213,649.40C212.15,645.60 209.40,642.85 205.60,642C209.40,641.15 212.15,638.40 213,634.60Z" fill="url(#spk2)" stroke="url(#spk2)" stroke-width="1.4" stroke-linejoin="round"/>
  <path d="M201.3,630.2C201.65,632.6 202.5,633.45 204.9,633.8C202.5,634.15 201.65,635 201.3,637.4C200.95,635 200.1,634.15 197.7,633.8C200.1,633.45 200.95,632.6 201.3,630.2Z" fill="#7fabf8" stroke="#7fabf8" stroke-width="0.7" stroke-linejoin="round"/>
  <path d="M201.3,646.4C201.65,648.8 202.5,649.65 204.9,650C202.5,650.35 201.65,651.2 201.3,653.6C200.95,651.2 200.1,650.35 197.7,650C200.1,649.65 200.95,648.8 201.3,646.4Z" fill="#ba7de9" stroke="#ba7de9" stroke-width="0.7" stroke-linejoin="round"/>
  <text x="230.6" y="648.8" font-size="20.3" fill="#232325" textLength="166.9" lengthAdjust="spacingAndGlyphs">Generate Diagram</text>
  <!-- Emma cursor -->
  <path d="M273,642.4L292.3,683.5L273,677L254.7,683.5Z" fill="#74c865" stroke="#74c865" stroke-width="2.6" stroke-linejoin="round"/>
  <rect x="200" y="710" width="153" height="66.2" rx="33.1" fill="#74c865"/>
  <text x="226.6" y="755" font-size="34" fill="#0c0c3a" stroke="#0c0c3a" stroke-width="0.35" textLength="98.8" lengthAdjust="spacingAndGlyphs">Emma</text>
</svg>

</div>

<!-- OVERLAYS -->
<svg class="abs" style="left:0;top:0" width="1601" height="1201" viewBox="0 0 1601 1201" font-family="Liberation Sans, sans-serif">
  <defs>
    <filter id="psh" x="-20%" y="-60%" width="140%" height="260%"><feGaussianBlur stdDeviation="7"/></filter>
    <filter id="psh2" x="-20%" y="-60%" width="140%" height="260%"><feGaussianBlur stdDeviation="9"/></filter>
    <filter id="zsh" x="-10%" y="-40%" width="120%" height="200%"><feGaussianBlur stdDeviation="4"/></filter>
  </defs>
  <!-- Exit Diagramming -->
  <rect x="690" y="90" width="238" height="62" rx="31" fill="#e3e3e5" opacity="0.95" filter="url(#psh2)"/>
  <rect x="704" y="104" width="210" height="44" rx="22" fill="#000" opacity="0.075" filter="url(#psh)"/>
  <rect x="696.2" y="92.3" width="225.3" height="48.1" rx="24" fill="#fff"/>
  <path d="M722.4,110.8L732.9,121.3M732.9,110.8L722.4,121.3" stroke="#1a1a1a" stroke-width="2" stroke-linecap="round" fill="none"/>
  <text x="747" y="121.5" font-size="18.8" fill="#1a1a1a" stroke="#1a1a1a" stroke-width="0.25" textLength="149.5" lengthAdjust="spacingAndGlyphs">Exit Diagramming</text>
  <!-- Marco -->
  <path d="M880.0,919.2L870.6,962.2L861.2,947.2L841.6,941.4Z" fill="#5fd1fb" stroke="#5fd1fb" stroke-width="2.6" stroke-linejoin="round"/>
  <rect x="706" y="970.7" width="149.4" height="65.8" rx="32.9" fill="#5fd1fb"/>
  <text x="731.6" y="1015.3" font-size="33" fill="#0c0c3a" stroke="#0c0c3a" stroke-width="0.35" textLength="97.2" lengthAdjust="spacingAndGlyphs">Marco</text>
  <!-- zoom controls -->
  <rect x="1292" y="1122" width="291" height="62" rx="8" fill="#000" opacity="0.07" filter="url(#zsh)"/>
  <rect x="1290.7" y="1118.5" width="293.5" height="64.1" rx="7" fill="#fff"/>
  <g fill="none" stroke="#1a1a1a" stroke-width="2.4" stroke-linecap="round" stroke-linejoin="round">
    <path d="M1328.6,1140.2L1342,1146.6L1328.6,1153L1315.2,1146.6Z"/>
    <path d="M1319.6,1153.6L1315.2,1155.6L1328.6,1162L1342,1155.6L1337.6,1153.6"/>
    <path d="M1378.6,1150.4H1395"/>
    <path d="M1484.2,1150.4H1503.4M1493.8,1140.8V1160"/>
    <circle cx="1552.4" cy="1150.4" r="12.2"/>
    <path d="M1548.4,1146.4A4.1,4.1 0 1 1 1554.4,1150.2Q1552.5,1151.3 1552.5,1153.4"/>
  </g>
  <circle cx="1552.5" cy="1157.3" r="1.5" fill="#1a1a1a"/>
  <text x="1424.6" y="1154.8" font-size="13.5" fill="#1a1a1a" textLength="31.4" lengthAdjust="spacingAndGlyphs">100%</text>
</svg>


</div></div>
<div class="abs" style="left:0;top:1200px;width:8px;height:1px;background:#000"></div>
<div class="abs" style="left:1600px;top:0;width:1px;height:8px;background:#000"></div>
<div class="abs" style="left:1592px;top:1200px;width:9px;height:1px;background:#000"></div>
<div class="abs" style="left:1600px;top:1192px;width:1px;height:9px;background:#000"></div>
</body>
</html>
